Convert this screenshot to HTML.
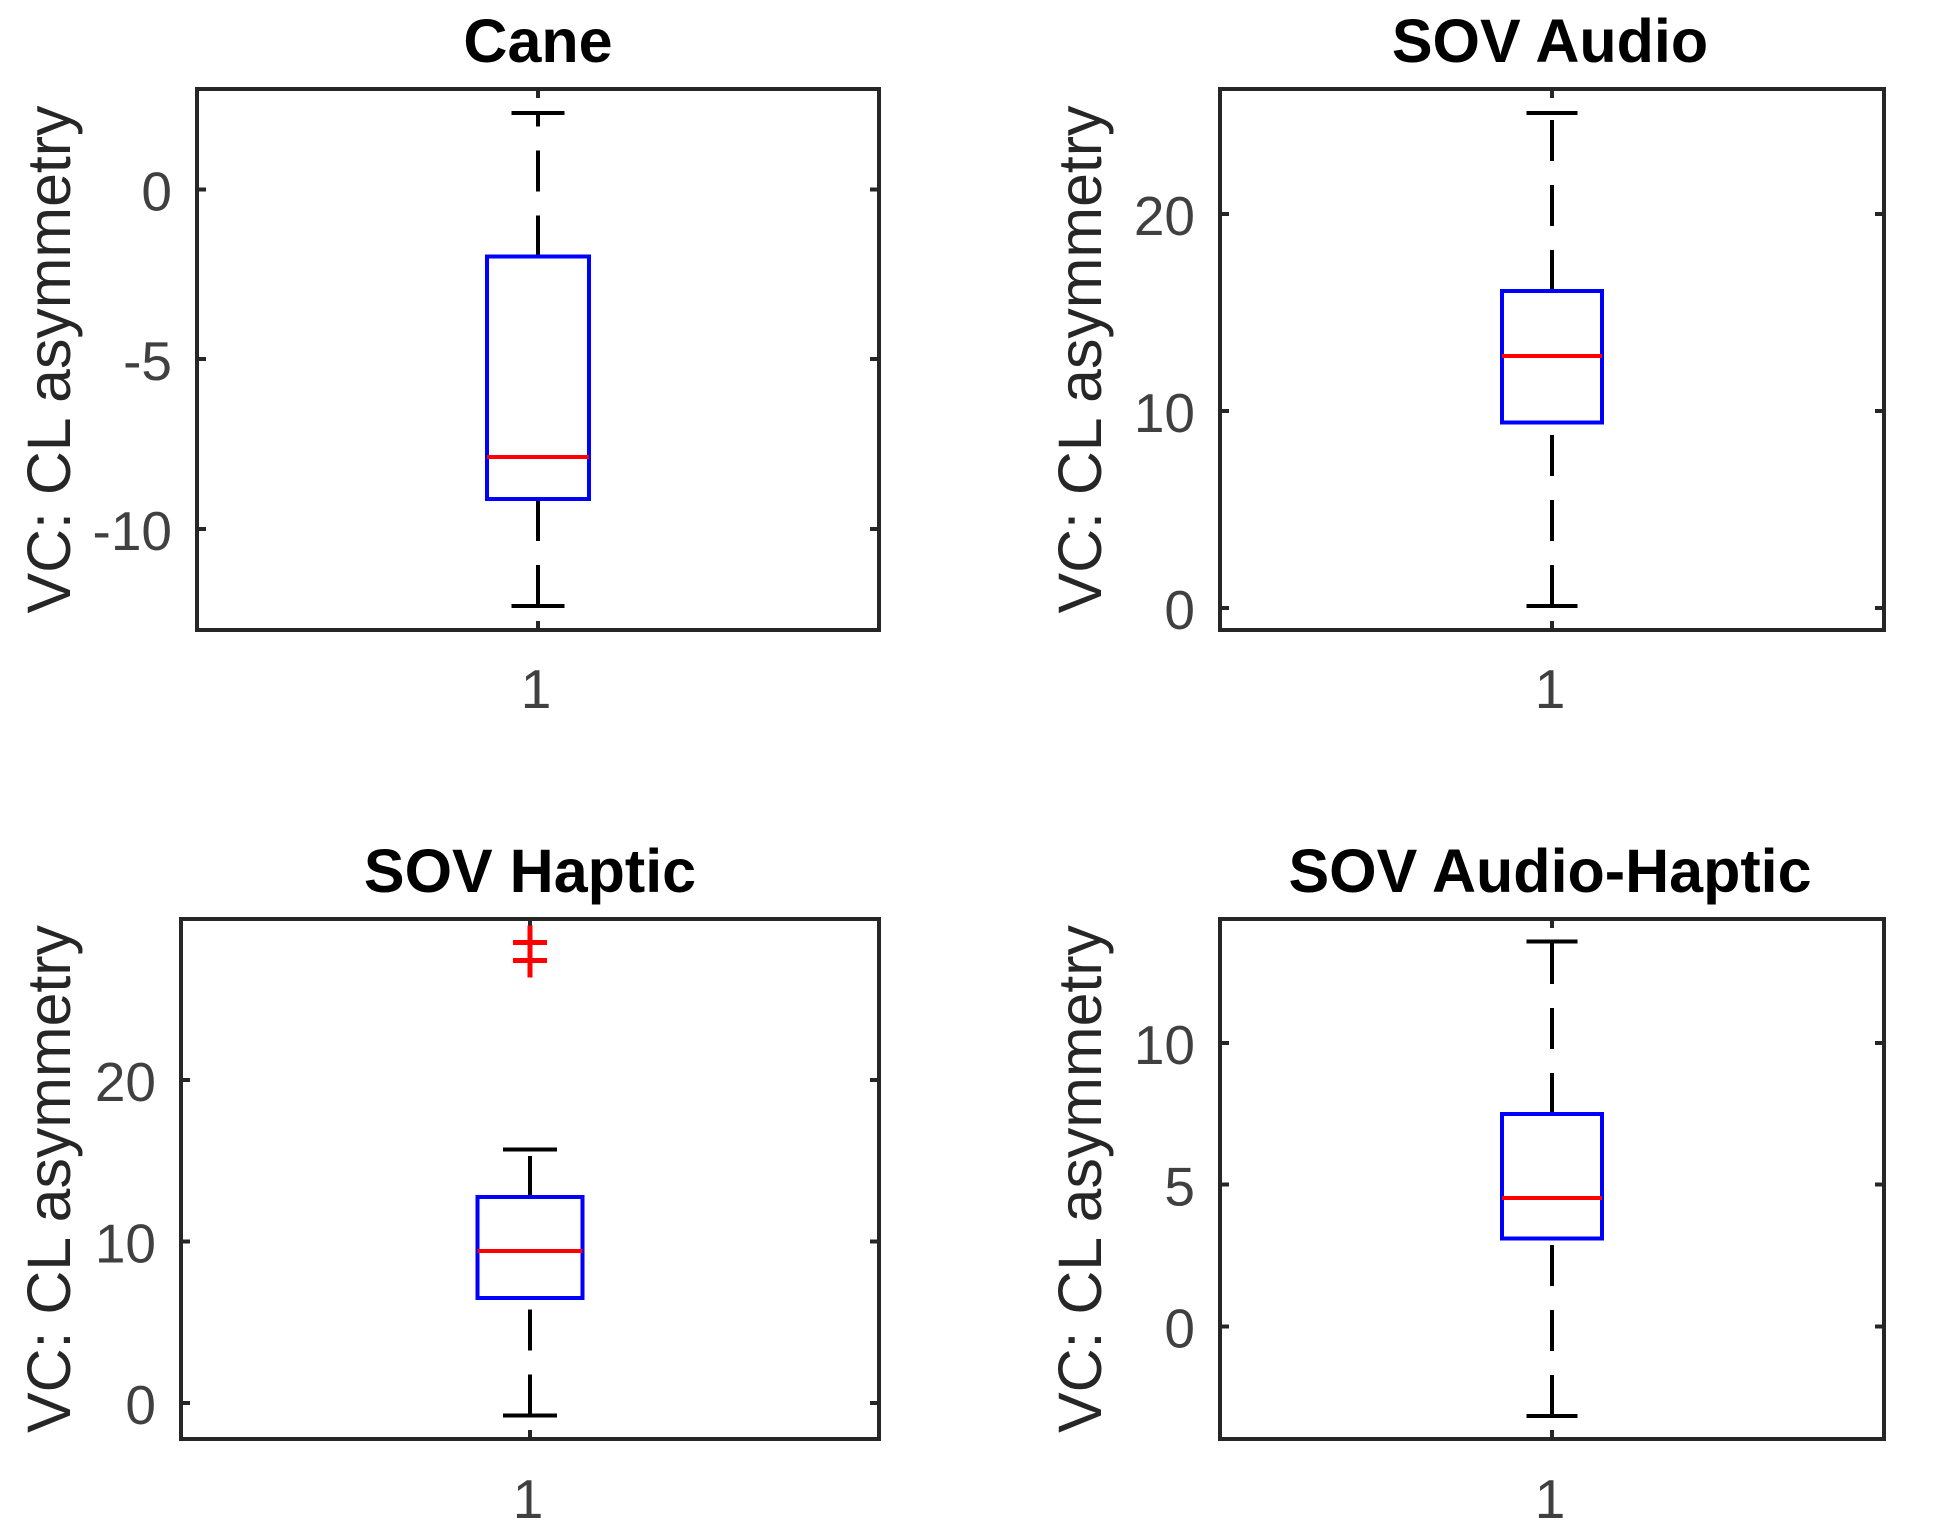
<!DOCTYPE html>
<html lang="en">
<head>
<meta charset="utf-8">
<title>VC: CL asymmetry box plots</title>
<style>
html,body{margin:0;padding:0;background:#fff;width:1941px;height:1538px;overflow:hidden}
svg{display:block;font-family:"Liberation Sans",Arial,sans-serif}
</style>
</head>
<body>
<svg id="figure" xmlns="http://www.w3.org/2000/svg" width="1941" height="1538" viewBox="0 0 1941 1538"></svg>
<script>
// Chart data
const panelTitles = ['Cane', 'SOV Audio', 'SOV Haptic', 'SOV Audio-Haptic'];
const categoryLabels = ['1'];
const yAxisTitle = 'VC: CL asymmetry';
const whiskerHigh = [2.26, 25.15, 15.7, 13.58];
const upperQuartile = [-1.97, 16.1, 12.76, 7.49];
const medians = [-7.88, 12.8, 9.41, 4.53];
const lowerQuartile = [-9.12, 9.43, 6.5, 3.1];
const whiskerLow = [-12.27, 0.1, -0.78, -3.15];
const outlierValues = [[], [], [28.5, 27.4], []];
const yTickValues = [[0, -5, -10], [20, 10, 0], [20, 10, 0], [10, 5, 0]];
const yTickLabels = [['0', '-5', '-10'], ['20', '10', '0'], ['20', '10', '0'], ['10', '5', '0']];
const yLimitLow = [-12.98, -1.12, -2.23, -3.97];
const yLimitHigh = [2.96, 26.36, 29.97, 14.37];

// Figure layout
const frameLeft = [197, 1220, 181, 1220];
const frameRight = [879, 1884, 879, 1884];
const frameTop = [89, 89, 919, 919];
const frameBottom = [630, 630, 1439, 1439];
const titleBaseline = [62, 62, 892, 892];
const xLabelBaseline = [708, 708, 1518, 1518];
const yTitleX = [70, 1101, 70, 1101];

const svg = document.getElementById('figure');
const NS = 'http://www.w3.org/2000/svg';
function make(tag, attrs, parent) {
  const el = document.createElementNS(NS, tag);
  for (const k in attrs) el.setAttribute(k, attrs[k]);
  parent.appendChild(el);
  return el;
}

panelTitles.forEach(function (title, i) {
  const L = frameLeft[i], R = frameRight[i], T = frameTop[i], B = frameBottom[i];
  const xScale = function (v) { return L + (v - 0.5) * (R - L); };
  const yScale = function (v) { return B - (v - yLimitLow[i]) / (yLimitHigh[i] - yLimitLow[i]) * (B - T); };
  const cx = xScale(1);
  const halfBox = 0.075 * (R - L);
  const halfCap = 0.0385 * (R - L);

  const g = make('g', {}, svg);
  
  

  const titleEl = make('text', { x: cx - (L > 1000 ? 2 : 0), y: titleBaseline[i], 'text-anchor': 'middle', 'font-size': 61, 'font-weight': 'bold', fill: '#000' }, g);
  titleEl.textContent = title;
  
  

  const yMid = (T + B) / 2;
  const yt = make('text', { x: yTitleX[i], y: yMid, 'text-anchor': 'middle', 'font-size': 60.8, fill: '#262626', transform: 'rotate(-90 ' + yTitleX[i] + ' ' + yMid + ')' }, g);
  yt.textContent = yAxisTitle;
  
  

  const frame = make('rect', { x: L, y: T, width: R - L, height: B - T, fill: 'none', stroke: '#262626', 'stroke-width': 4, 'shape-rendering': 'crispEdges' }, g);
  
  

  yTickValues[i].forEach(function (v, k) {
    const y = yScale(v);
    const t1 = make('line', { x1: L, x2: L + 9, y1: y, y2: y, stroke: '#262626', 'stroke-width': 4, 'shape-rendering': 'crispEdges' }, g);
    
    
    const t2 = make('line', { x1: R, x2: R - 9, y1: y, y2: y, stroke: '#262626', 'stroke-width': 4, 'shape-rendering': 'crispEdges' }, g);
    
    
    const lab = make('text', { x: L - 25, y: y + 21, 'text-anchor': 'end', 'font-size': 55, fill: '#404040' }, g);
    lab.textContent = yTickLabels[i][k];
    
    
  });

  const t3 = make('line', { x1: cx, x2: cx, y1: B, y2: B - 9, stroke: '#262626', 'stroke-width': 4, 'shape-rendering': 'crispEdges' }, g);
  
  
  const t4 = make('line', { x1: cx, x2: cx, y1: T, y2: T + 9, stroke: '#262626', 'stroke-width': 4, 'shape-rendering': 'crispEdges' }, g);
  
  
  const xl = make('text', { x: cx - 2, y: xLabelBaseline[i], 'text-anchor': 'middle', 'font-size': 55, fill: '#404040' }, g);
  xl.textContent = categoryLabels[0];
  
  

  // whiskers are dashed starting from their lower end, as in the source plot
  const wu = make('line', { x1: cx, x2: cx, y1: yScale(upperQuartile[i]), y2: yScale(whiskerHigh[i]), stroke: '#000', 'stroke-width': 4, 'stroke-dasharray': '41 24', 'shape-rendering': 'crispEdges' }, g);
  
  
  const wl = make('line', { x1: cx, x2: cx, y1: yScale(whiskerLow[i]), y2: yScale(lowerQuartile[i]), stroke: '#000', 'stroke-width': 4, 'stroke-dasharray': '41 24', 'shape-rendering': 'crispEdges' }, g);
  
  

  const cu = make('line', { x1: cx - halfCap, x2: cx + halfCap, y1: yScale(whiskerHigh[i]), y2: yScale(whiskerHigh[i]), stroke: '#000', 'stroke-width': 4, 'shape-rendering': 'crispEdges' }, g);
  
  
  const cl = make('line', { x1: cx - halfCap, x2: cx + halfCap, y1: yScale(whiskerLow[i]), y2: yScale(whiskerLow[i]), stroke: '#000', 'stroke-width': 4, 'shape-rendering': 'crispEdges' }, g);
  
  

  const box = make('rect', { x: cx - halfBox, y: yScale(upperQuartile[i]), width: 2 * halfBox, height: yScale(lowerQuartile[i]) - yScale(upperQuartile[i]), fill: 'none', stroke: '#0000ff', 'stroke-width': 4, 'shape-rendering': 'crispEdges' }, g);
  
  

  const med = make('line', { x1: cx - halfBox, x2: cx + halfBox, y1: yScale(medians[i]), y2: yScale(medians[i]), stroke: '#ff0000', 'stroke-width': 4, 'shape-rendering': 'crispEdges' }, g);
  
  

  outlierValues[i].forEach(function (v) {
    const y = yScale(v);
    const p = make('path', { d: 'M' + (cx - 17) + ' ' + y + 'H' + (cx + 17) + 'M' + cx + ' ' + (y - 17) + 'V' + (y + 17), stroke: '#ff0000', 'stroke-width': 5, fill: 'none', 'shape-rendering': 'crispEdges' }, g);
    
    
  });
});
</script>
</body>
</html>
